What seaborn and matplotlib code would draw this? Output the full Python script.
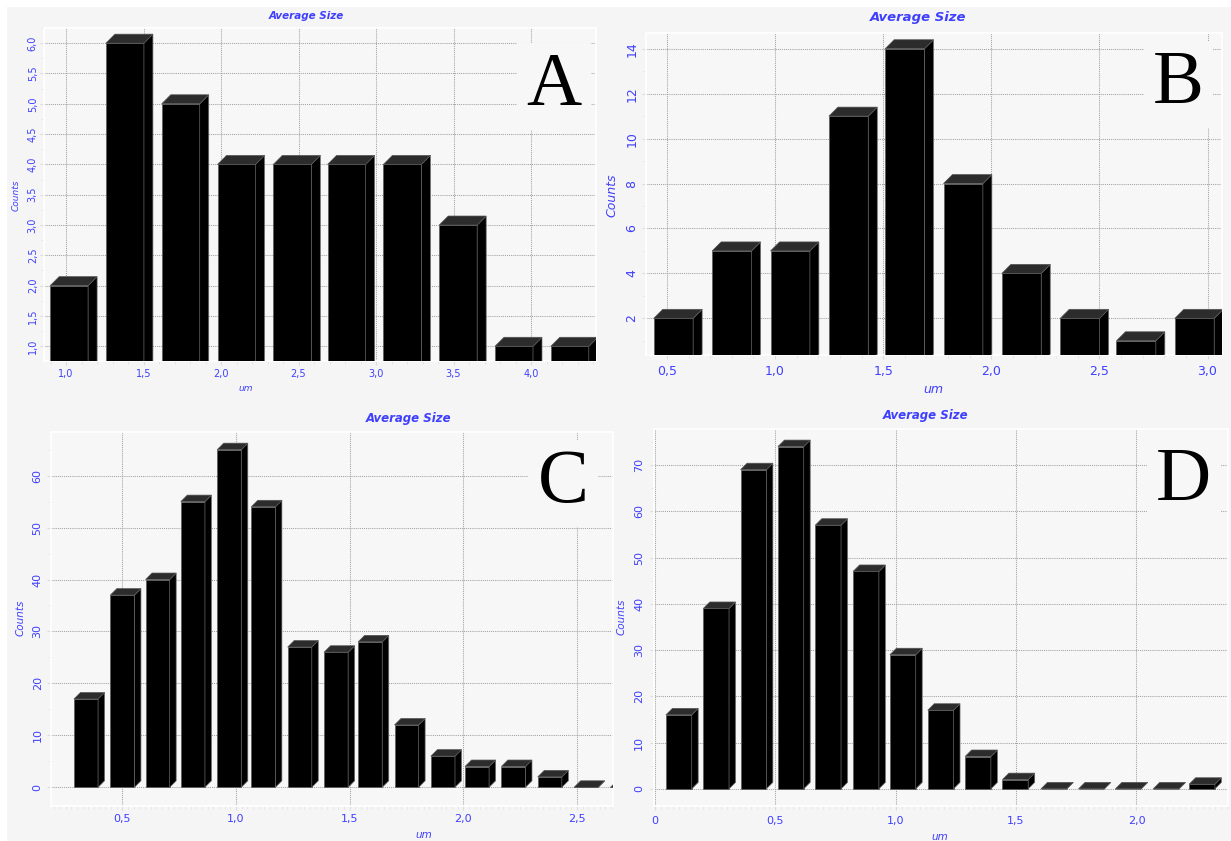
import numpy as np
import pandas as pd
import seaborn as sns
import matplotlib
matplotlib.use("Agg")
import matplotlib.pyplot as plt
from matplotlib.patches import Polygon, Rectangle
from matplotlib.ticker import FixedLocator, MultipleLocator

# ---------------- data ----------------
a_centers = [1.02, 1.38, 1.74, 2.10, 2.46, 2.81, 3.17, 3.53, 3.89, 4.25]
a_counts = [2, 6, 5, 4, 4, 4, 4, 3, 1, 1]
a_xticks = [1.0, 1.5, 2.0, 2.5, 3.0, 3.5, 4.0]
a_xlabels = ["1,0", "1,5", "2,0", "2,5", "3,0", "3,5", "4,0"]
a_yticks = [1.0, 1.5, 2.0, 2.5, 3.0, 3.5, 4.0, 4.5, 5.0, 5.5, 6.0]
a_ylabels = ["1,0", "1,5", "2,0", "2,5", "3,0", "3,5", "4,0", "4,5", "5,0", "5,5", "6,0"]

b_centers = [0.53, 0.80, 1.07, 1.34, 1.60, 1.87, 2.14, 2.41, 2.67, 2.94]
b_counts = [2, 5, 5, 11, 14, 8, 4, 2, 1, 2]
b_xticks = [0.5, 1.0, 1.5, 2.0, 2.5, 3.0]
b_xlabels = ["0,5", "1,0", "1,5", "2,0", "2,5", "3,0"]
b_yticks = [2, 4, 6, 8, 10, 12, 14]
b_ylabels = ["2", "4", "6", "8", "10", "12", "14"]

c_centers = [0.34, 0.50, 0.655, 0.81, 0.97, 1.12, 1.28, 1.44, 1.59, 1.75,
             1.91, 2.06, 2.22, 2.38, 2.54, 2.70]
c_counts = [17, 37, 40, 55, 65, 54, 27, 26, 28, 12, 6, 4, 4, 2, 0, 0]
c_xticks = [0.5, 1.0, 1.5, 2.0, 2.5]
c_xlabels = ["0,5", "1,0", "1,5", "2,0", "2,5"]
c_yticks = [0, 10, 20, 30, 40, 50, 60]
c_ylabels = ["0", "10", "20", "30", "40", "50", "60"]

d_centers = [0.10, 0.255, 0.41, 0.565, 0.72, 0.877, 1.03, 1.187, 1.342, 1.497,
             1.657, 1.813, 1.966, 2.123, 2.272]
d_counts = [16, 39, 69, 74, 57, 47, 29, 17, 7, 2, 0, 0, 0, 0, 1]
d_xticks = [0.0, 0.5, 1.0, 1.5, 2.0]
d_xlabels = ["0", "0,5", "1,0", "1,5", "2,0"]
d_yticks = [0, 10, 20, 30, 40, 50, 60, 70]
d_ylabels = ["0", "10", "20", "30", "40", "50", "60", "70"]

panel_letters = ["A", "B", "C", "D"]
title_text = "Average Size"
xlabel_text = "um"
ylabel_text = "Counts"

# ---------------- style ----------------
W, H = 1231, 841
BLUE = "#3f3fff"
BG = "#f5f5f5"
AXBG = "#f7f7f7"

sns.set_style("white")
plt.rcParams["font.family"] = ["DejaVu Sans"]

fig = plt.figure(figsize=(W / 100, H / 100), dpi=100, facecolor="white")
bgrect = Rectangle((7 / W, 0), 1, (H - 7) / H, transform=fig.transFigure,
                   facecolor=BG, edgecolor="none", zorder=-10)
fig.patches.append(bgrect)


def px_axes(l, r, t, b):
    return fig.add_axes([l / W, 1 - b / H, (r - l) / W, (b - t) / H])


panels = [
    dict(box=(44, 596, 28, 361), cx=a_centers, cy=a_counts, fw=0.245, depth=9,
         xlim=(0.858, 4.419), ylim=(0.757, 6.25),
         xt=a_xticks, xl=a_xlabels, yt=a_yticks, yl=a_ylabels,
         xminor=0.1, yminor=0.25, tick_fs=7, lab_fs=6.5, title_fs=7.5,
         title_pos=(0.475, 1.036), xlab_pos=(0.366, -0.084), ylab_pos=(-0.0507, 0.498),
         letter_pos=(0.924, 0.769), xpad=3, ypad=1.5),
    dict(box=(646, 1222, 33, 355), cx=b_centers, cy=b_counts, fw=0.182, depth=9,
         xlim=(0.403, 3.067), ylim=(0.367, 14.70),
         xt=b_xticks, xl=b_xlabels, yt=b_yticks, yl=b_ylabels,
         xminor=0.1, yminor=1, tick_fs=9, lab_fs=9, title_fs=9.5,
         title_pos=(0.472, 1.047), xlab_pos=(0.498, -0.106), ylab_pos=(-0.059, 0.497),
         letter_pos=(0.924, 0.783), xpad=4, ypad=2.5),
    dict(box=(51, 613, 432, 806), cx=c_centers, cy=c_counts, fw=0.106, depth=6.5,
         xlim=(0.186, 2.658), ylim=(-3.6, 68.4),
         xt=c_xticks, xl=c_xlabels, yt=c_yticks, yl=c_ylabels,
         xminor=0.025, yminor=5, tick_fs=8, lab_fs=7.5, title_fs=8.5,
         title_pos=(0.637, 1.037), xlab_pos=(0.663, -0.078), ylab_pos=(-0.055, 0.503),
         letter_pos=(0.911, 0.813), xpad=3, ypad=3),
    dict(box=(654, 1228, 429, 806), cx=d_centers, cy=d_counts, fw=0.107, depth=6.5,
         xlim=(-0.003, 2.38), ylim=(-3.7, 77.8),
         xt=d_xticks, xl=d_xlabels, yt=d_yticks, yl=d_ylabels,
         xminor=0.025, yminor=5, tick_fs=8, lab_fs=7.5, title_fs=8.5,
         title_pos=(0.474, 1.037), xlab_pos=(0.498, -0.082), ylab_pos=(-0.056, 0.501),
         letter_pos=(0.923, 0.812), xpad=4.5, ypad=4),
]

for letter, p in zip(panel_letters, panels):
    l, r, t, b = p["box"]
    ax = px_axes(l, r, t, b)
    ax.set_facecolor(AXBG)
    df = pd.DataFrame({"um": p["cx"], "Counts": p["cy"]})
    sns.barplot(data=df, x="um", y="Counts", native_scale=True, orient="x",
                color="black", saturation=1, errorbar=None, ax=ax, zorder=3)
    ax.set_xlim(*p["xlim"])
    ax.set_ylim(*p["ylim"])

    # resize bars to front-face width and add pseudo-3D faces
    x0l, x1l = p["xlim"]
    y0l, y1l = p["ylim"]
    dx = p["depth"] * (x1l - x0l) / (r - l)
    dy = p["depth"] * (y1l - y0l) / (b - t)
    bars = [pt for pt in ax.patches]
    for bar in bars:
        cxv = bar.get_x() + bar.get_width() / 2
        bar.set_width(p["fw"])
        bar.set_x(cxv - p["fw"] / 2)
        bar.set_edgecolor("#5a5a5a")
        bar.set_linewidth(0.5)
        bx0 = bar.get_x()
        bw = bar.get_width()
        by0 = bar.get_y()
        bh = bar.get_height() + by0
        side = Polygon([(bx0 + bw, by0), (bx0 + bw + dx, by0 + dy),
                        (bx0 + bw + dx, bh + dy), (bx0 + bw, bh)],
                       closed=True, facecolor="black", edgecolor="#6a6a6a",
                       linewidth=0.5, zorder=3)
        top = Polygon([(bx0, bh), (bx0 + dx, bh + dy), (bx0 + bw + dx, bh + dy),
                       (bx0 + bw, bh)], closed=True, facecolor="#2c2c2c",
                      edgecolor="#555555", linewidth=0.5, zorder=3)
        ax.add_patch(side)
        ax.add_patch(top)

    # ticks & grid
    ax.xaxis.set_major_locator(FixedLocator(p["xt"]))
    ax.set_xticklabels(p["xl"])
    ax.yaxis.set_major_locator(FixedLocator(p["yt"]))
    ax.set_yticklabels(p["yl"], rotation=90, va="center")
    ax.xaxis.set_minor_locator(MultipleLocator(p["xminor"]))
    ax.yaxis.set_minor_locator(MultipleLocator(p["yminor"]))
    ax.tick_params(axis="both", which="major", length=3, width=0.8, color="#dcdcdc",
                   labelcolor=BLUE, labelsize=p["tick_fs"], direction="out",
                   bottom=True, left=True)
    ax.tick_params(axis="both", which="minor", length=2, width=0.6, color="#e2e2e2",
                   direction="out", bottom=True, left=True)
    ax.tick_params(axis="x", which="major", pad=p["xpad"])
    ax.tick_params(axis="y", which="major", pad=p["ypad"])
    ax.grid(True, which="major", color="#a2a2a2", linestyle=(0, (1, 1)), linewidth=0.75)
    ax.set_axisbelow(True)
    for s in ax.spines.values():
        s.set_visible(True)
        s.set_color("white")
        s.set_linewidth(1.2)

    # labels
    ax.set_xlabel(xlabel_text, color=BLUE, fontsize=p["lab_fs"], style="italic")
    ax.xaxis.set_label_coords(*p["xlab_pos"])
    ax.xaxis.label.set_verticalalignment("center")
    ax.set_ylabel(ylabel_text, color=BLUE, fontsize=p["lab_fs"], style="italic")
    ax.yaxis.set_label_coords(*p["ylab_pos"])
    ax.yaxis.label.set_verticalalignment("center")
    ax.text(*p["title_pos"], title_text, transform=ax.transAxes, ha="center", va="center",
            color=BLUE, fontsize=p["title_fs"], fontweight="bold", style="italic")
    ax.text(*p["letter_pos"], letter, transform=ax.transAxes, ha="center", va="baseline",
            fontsize=55, family=["Liberation Serif"], color="black", zorder=5,
            bbox=dict(boxstyle="square,pad=0.12", facecolor=AXBG, edgecolor="none"))

fig.savefig("out.png", dpi=100, facecolor="white")
